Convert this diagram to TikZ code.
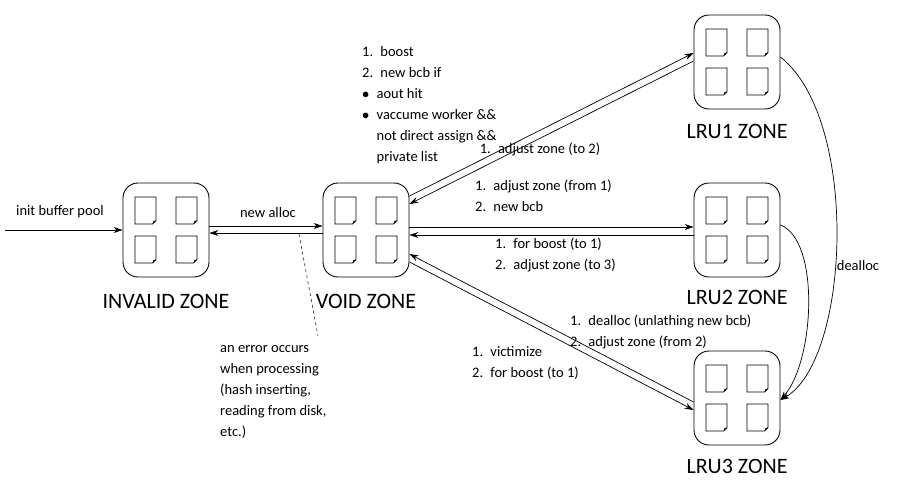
\documentclass[tikz,border=0pt]{standalone}
\usepackage{fontspec}
\setmainfont{Carlito}
\usetikzlibrary{arrows.meta}
\tikzset{
  zone/.style={draw, rounded corners=15, minimum width=86, minimum height=94, line width=0.9pt},
  doc/.pic={\draw[line width=0.7pt] (-10.5,-13.5) -- (10.5,-13.5) -- (10.5,10) -- (7,13.5) -- (-10.5,13.5) -- cycle;
            \fill (10.5,10) -- (7,13.5) -- (8,10.5) -- cycle;},
  zlabel/.style={font=\fontsize{22}{24}\selectfont},
  note/.style={font=\fontsize{14.5}{21}\selectfont, align=left, inner sep=0},
  link/.style={-{Stealth[length=9pt,width=6pt]}, line width=0.7pt},
}
\newcommand{\zonedocs}[1]{%
  \foreach \dx in {-20.5,20.5} \foreach \dy in {-19.5,19.5}
    \pic at ([shift={(\dx,\dy)}]#1.center) {doc};}
\begin{document}
\begin{tikzpicture}[x=1pt,y=-1pt]
  \useasboundingbox (0,0) rectangle (902,499);
  % zones
  \node (inv) at (166,230) [zone] {};
  \node (void) at (366,230) [zone] {};
  \node (lru1) at (737,62) [zone] {};
  \node (lru2) at (737,230) [zone] {};
  \node (lru3) at (737,398) [zone] {};
  \zonedocs{inv} \zonedocs{void} \zonedocs{lru1} \zonedocs{lru2} \zonedocs{lru3}
  \node (invl) at (166,301) [zlabel] {INVALID ZONE};
  \node (voidl) at (366,301) [zlabel] {VOID ZONE};
  \node (lru1l) at (737,131) [zlabel] {LRU1 ZONE};
  \node (lru2l) at (737,297) [zlabel] {LRU2 ZONE};
  \node (lru3l) at (737,466) [zlabel] {LRU3 ZONE};

  % entry
  \coordinate (start) at (5,230);
  \draw[link] (start) -- (inv.west);
  \node (initl) at (60,212) [note] {init buffer pool};

  % invalid <-> void
  \draw[link] ([shift={(0,-4)}]inv.east) -- ([shift={(0,-4)}]void.west);
  \draw[link] ([shift={(0,3)}]void.west) -- ([shift={(0,3)}]inv.east);
  \node (allocl) at (268,213) [note] {new alloc};
  \coordinate (errtop) at (299,234);
  \coordinate (errend) at (318,336);
  \draw[dashed, line width=0.5pt] (errtop) -- (errend);
  \node (errl) at (220,345) [note, anchor=north west] {an error occurs\\when processing\\(hash inserting,\\reading from disk,\\etc.)};

  % void <-> lru1
  \draw[link] ([shift={(0,-34)}]void.east) -- ([shift={(0,-9)}]lru1.west);
  \draw[link] ([shift={(0,-1)}]lru1.west) -- ([shift={(0,-26)}]void.east);
  \node (boostl) at (362,46) [note, anchor=north west] {1.\enspace boost\\2.\enspace new bcb if\\$\bullet$\enspace aout hit\\$\bullet$\enspace vaccume worker \&\&\\\phantom{$\bullet$\enspace}not direct assign \&\&\\\phantom{$\bullet$\enspace}private list};
  \node (adj2l) at (540,149) [note] {1.\enspace adjust zone (to 2)};

  % void <-> lru2
  \draw[link] ([shift={(0,-3)}]void.east) -- ([shift={(0,-3)}]lru2.west);
  \draw[link] ([shift={(0,5)}]lru2.west) -- ([shift={(0,5)}]void.east);
  \node (adj1l) at (475,180) [note, anchor=north west] {1.\enspace adjust zone (from 1)\\2.\enspace new bcb};
  \node (for1l) at (495,238) [note, anchor=north west] {1.\enspace for boost (to 1)\\2.\enspace adjust zone (to 3)};

  % void <-> lru3
  \draw[link] ([shift={(0,4)}]lru3.west) -- ([shift={(0,24)}]void.east);
  \draw[link] ([shift={(0,32)}]void.east) -- ([shift={(0,12)}]lru3.west);
  \node (vicl) at (472,346) [note, anchor=north west] {1.\enspace victimize\\2.\enspace for boost (to 1)};
  \node (deal2l) at (570,315) [note, anchor=north west] {1.\enspace dealloc (unlathing new bcb)\\2.\enspace adjust zone (from 2)};

  % dealloc curves
  \draw[link] ([shift={(0,-5)}]lru1.east) .. controls (860,120) and (850,360) .. ([shift={(0,2)}]lru3.east);
  \draw[link] ([shift={(0,-5)}]lru2.east) .. controls (820,240) and (815,360) .. ([shift={(0,2)}]lru3.east);
  \node (deall) at (858,266) [note] {dealloc};
\end{tikzpicture}
\end{document}
